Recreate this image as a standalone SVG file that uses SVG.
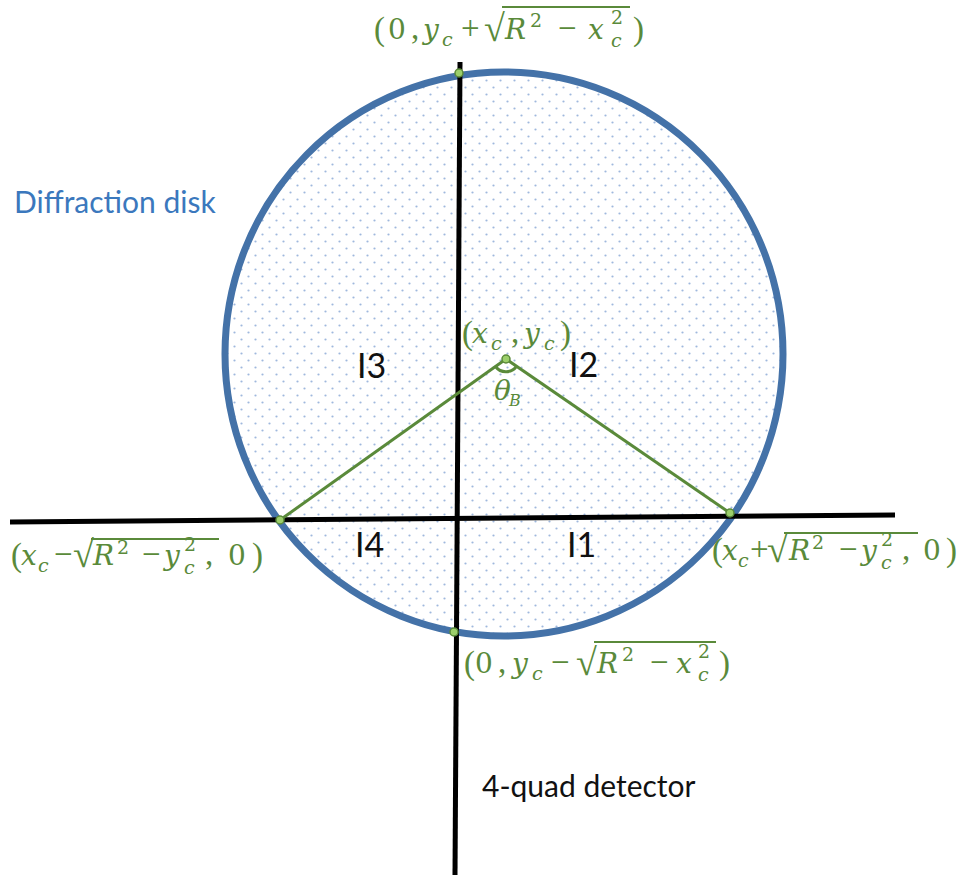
<svg xmlns="http://www.w3.org/2000/svg" width="970" height="875" viewBox="0 0 970 875">
<style>
.m { font-family: "DejaVu Serif", "Liberation Serif", serif; font-size: 28px; fill: #5a8a3a; }
.i { font-style: italic; }
.o { font-family: "Liberation Serif", serif; font-size: 33px; }
.s { font-size: 19px; }
.rad { font-size: 38px; font-family: "Liberation Serif", serif; }
.vin { stroke: #5a8a3a; stroke-width: 2.2; }
.q { font-family: Lato, "Liberation Sans", sans-serif; font-size: 34px; fill: #111; }
.lbl { font-family: Lato, "Liberation Sans", sans-serif; font-size: 30px; }
.axis { stroke: #000; stroke-width: 5; fill: none; }
.g { stroke: #5a8a3a; stroke-width: 3; fill: none; }
.pt { fill: #9ccf6b; stroke: #5a8a3a; stroke-width: 1.5; }
</style>
<defs>
<pattern id="dots" patternUnits="userSpaceOnUse" width="14" height="14">
<rect width="14" height="14" fill="#ffffff"/>
<circle cx="3.5" cy="3.5" r="1.1" fill="#9fb8de"/>
<circle cx="10.5" cy="10.5" r="1.1" fill="#9fb8de"/>
</pattern>
</defs>
<rect width="970" height="875" fill="#ffffff"/>

<g id="disk">
<ellipse cx="504" cy="354" rx="279" ry="282" fill="url(#dots)" stroke="#4472a8" stroke-width="7"/>
</g>

<g id="detector">
<line class="axis" x1="460" y1="62" x2="455" y2="875"/>
<line class="axis" x1="10" y1="522" x2="895" y2="515"/>
</g>

<g id="connectors">
<line class="g" x1="506" y1="359" x2="280" y2="520"/>
<line class="g" x1="506" y1="359" x2="730" y2="513"/>
<path class="g" d="M 495.5 366.5 A 13 13 0 0 0 516.5 366.3" stroke-width="2"/>
</g>

<g id="points">
<circle class="pt" cx="459" cy="73" r="4"/>
<circle class="pt" cx="454" cy="632" r="4"/>
<circle class="pt" cx="280" cy="520" r="4"/>
<circle class="pt" cx="730" cy="513" r="4"/>
<circle class="pt" cx="506" cy="359" r="4"/>
</g>

<g id="quadrants">
<text class="q" x="357" y="378">I3</text>
<text class="q" x="569" y="377">I2</text>
<text class="q" x="355" y="557">I4</text>
<text class="q" x="567" y="557">I1</text>
</g>

<g id="disk-label">
<text class="lbl" x="14" y="213" fill="#3b78bd">Diffraction disk</text>
</g>
<g id="detector-label">
<text class="lbl" x="482" y="797" fill="#111">4-quad detector</text>
</g>

<g id="label-top">
<text class="m">
<tspan class="o" x="374" y="40">(</tspan><tspan x="388" y="39">0</tspan><tspan class="o" x="411" y="39">,</tspan><tspan class="i" x="423" y="39">y</tspan><tspan class="i s" x="442" y="46">c</tspan><tspan class="o" x="461" y="39">+</tspan><tspan class="rad" x="484" y="41">√</tspan><tspan class="i" x="505" y="39">R</tspan><tspan class="s" x="530" y="27">2</tspan><tspan class="o" x="558" y="39">−</tspan><tspan class="i" x="588" y="39">x</tspan><tspan class="s" x="611" y="24">2</tspan><tspan class="i s" x="611" y="47">c</tspan><tspan class="o" x="633" y="40">)</tspan>
</text>
<line class="vin" x1="502" y1="7" x2="630" y2="7"/>
</g>

<g id="label-center">
<text class="m">
<tspan class="o" x="462" y="344">(</tspan><tspan class="i" x="472" y="343">x</tspan><tspan class="i s" x="491" y="350">c</tspan><tspan class="o" x="511" y="343">,</tspan><tspan class="i" x="524" y="343">y</tspan><tspan class="i s" x="544" y="350">c</tspan><tspan class="o" x="560" y="344">)</tspan>
</text>
<text class="m i" x="494" y="400" font-size="23">θ<tspan font-size="16" x="509" y="406">B</tspan></text>
</g>

<g id="label-left">
<text class="m">
<tspan class="o" x="11" y="566">(</tspan><tspan class="i" x="21" y="565">x</tspan><tspan class="i s" x="38" y="572">c</tspan><tspan class="o" x="54" y="565">−</tspan><tspan class="rad" x="73" y="567">√</tspan><tspan class="i" x="93" y="565">R</tspan><tspan class="s" x="117" y="554">2</tspan><tspan class="o" x="142" y="565">−</tspan><tspan class="i" x="164" y="565">y</tspan><tspan class="s" x="184" y="551">2</tspan><tspan class="i s" x="184" y="574">c</tspan><tspan class="o" x="205" y="565">,</tspan><tspan x="228" y="565">0</tspan><tspan class="o" x="252" y="566">)</tspan>
</text>
<line class="vin" x1="91" y1="539" x2="219" y2="539"/>
</g>

<g id="label-right">
<text class="m">
<tspan class="o" x="712" y="561">(</tspan><tspan class="i" x="722" y="560">x</tspan><tspan class="i s" x="738" y="567">c</tspan><tspan class="o" x="750" y="560">+</tspan><tspan class="rad" x="767" y="562">√</tspan><tspan class="i" x="789" y="560">R</tspan><tspan class="s" x="812" y="549">2</tspan><tspan class="o" x="839" y="560">−</tspan><tspan class="i" x="861" y="560">y</tspan><tspan class="s" x="881" y="546">2</tspan><tspan class="i s" x="881" y="569">c</tspan><tspan class="o" x="902" y="560">,</tspan><tspan x="923" y="560">0</tspan><tspan class="o" x="946" y="561">)</tspan>
</text>
<line class="vin" x1="784" y1="533" x2="918" y2="533"/>
</g>

<g id="label-bottom">
<text class="m">
<tspan class="o" x="464" y="674">(</tspan><tspan x="475" y="673">0</tspan><tspan class="o" x="498" y="673">,</tspan><tspan class="i" x="512" y="673">y</tspan><tspan class="i s" x="532" y="680">c</tspan><tspan class="o" x="551" y="673">−</tspan><tspan class="rad" x="576" y="675">√</tspan><tspan class="i" x="597" y="673">R</tspan><tspan class="s" x="622" y="661">2</tspan><tspan class="o" x="650" y="673">−</tspan><tspan class="i" x="676" y="673">x</tspan><tspan class="s" x="698" y="658">2</tspan><tspan class="i s" x="698" y="681">c</tspan><tspan class="o" x="719" y="674">)</tspan>
</text>
<line class="vin" x1="594" y1="642" x2="716" y2="642"/>
</g>
</svg>
